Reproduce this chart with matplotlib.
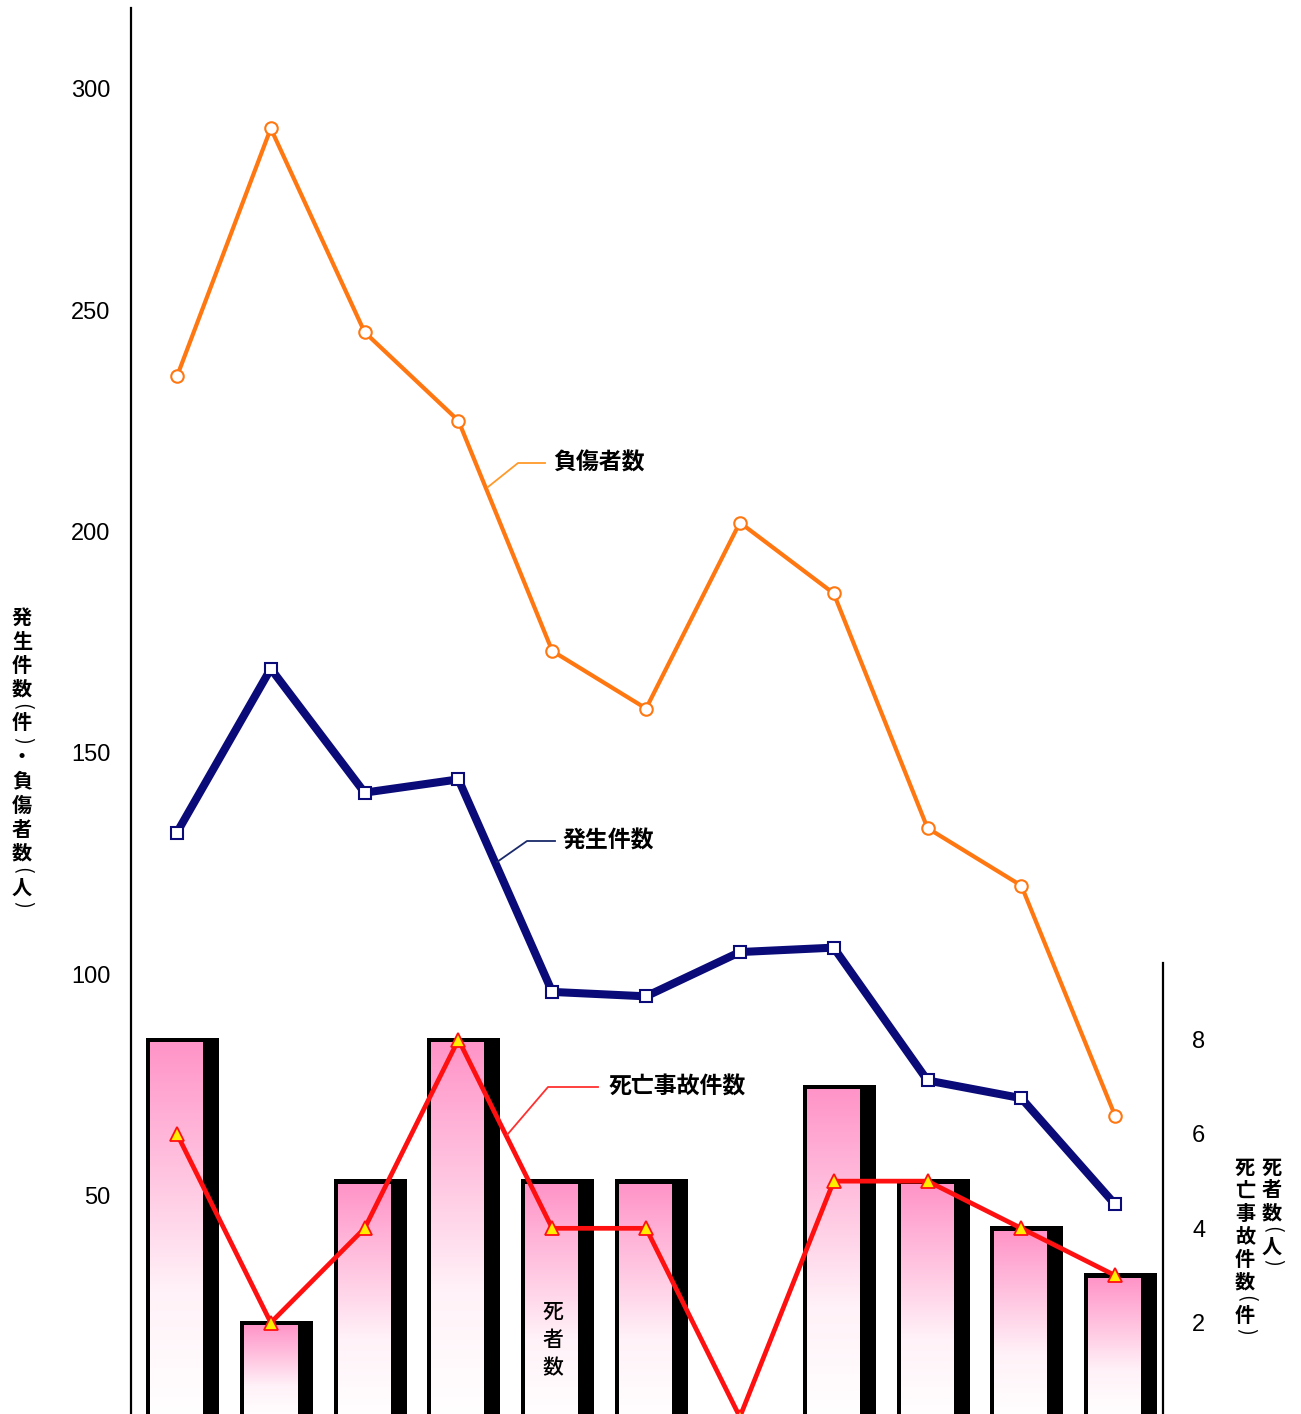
import matplotlib
matplotlib.use("Agg")
import matplotlib.pyplot as plt
import numpy as np
from matplotlib.colors import LinearSegmentedColormap
from matplotlib.lines import Line2D

# ---- data ----
years = list(range(11))
injured = [235, 291, 245, 225, 173, 160, 202, 186, 133, 120, 68]        # 負傷者数
accidents = [132, 169, 141, 144, 96, 95, 105, 106, 76, 72, 48]          # 発生件数
deaths = [8, 2, 5, 8, 5, 5, 0, 7, 5, 4, 3]                              # 死者数
fatal_accidents = [6, 2, 4, 8, 4, 4, 0, 5, 5, 4, 3]                     # 死亡事故件数
left_ticks = [50, 100, 150, 200, 250, 300]
right_ticks = [2, 4, 6, 8]

W, H = 1301, 1414
CJK = ["Noto Sans CJK JP", "DejaVu Sans"]
NUM = ["Liberation Sans", "DejaVu Sans"]

fig = plt.figure(figsize=(W / 100, H / 100), dpi=100)
ax_bottom_px, ax_top_px = 1417, 8
ax = fig.add_axes([131 / W, (H - ax_bottom_px) / H, 1032 / W, (ax_bottom_px - ax_top_px) / H])
ax.set_xlim(-0.49, 10.51)
ax.set_ylim(0, (ax_bottom_px - ax_top_px) / 4.428)
ax2 = ax.twinx()

for a in (ax, ax2):
    for s in ("top", "bottom"):
        a.spines[s].set_visible(False)
    a.set_facecolor("none")
ax.spines["right"].set_visible(False)
ax2.spines["left"].set_visible(False)
ax.spines["left"].set_linewidth(1.6)
ax2.spines["right"].set_linewidth(1.6)
ax2.spines["right"].set_bounds(0, 9.63)
ax.set_xticks([])
ax2.set_xticks([])

ax.set_yticks(left_ticks)
ax.set_yticklabels([str(t) for t in left_ticks], family=NUM, fontsize=17)
ax.tick_params(axis="y", length=0, pad=15)
ax2.set_yticks(right_ticks)
ax2.set_yticklabels([str(t) for t in right_ticks], family=NUM, fontsize=17)
ax2.tick_params(axis="y", length=0, pad=21)

# ---- bars with shadow and pink gradient ----
xu = 1032 / 11.0          # pixels per x unit
yu = 47.17                # pixels per right-axis unit
pink = LinearSegmentedColormap.from_list("pk", ["#ffffff", "#fff2f8", "#ffc2df", "#ff94c8"])
grad = np.linspace(0, 1, 256).reshape(-1, 1)
for x, v in zip(years, deaths):
    if v <= 0:
        continue
    ax2.bar(x + (-31 + 42) / 2 / xu, v + 2 / yu, width=73 / xu, bottom=0,
            color="black", zorder=1)
    x0, x1 = x - 27 / xu, x + 26 / xu
    ax2.imshow(grad, extent=[x0, x1, 0, v - 3 / yu], origin="lower", cmap=pink,
               aspect="auto", zorder=2, interpolation="bilinear")

ax2.set_xlim(-0.49, 10.51)
ax2.set_ylim(0, (ax_bottom_px - ax_top_px) / yu)

# ---- lines ----
ax.plot(years, injured, color="#ff7711", lw=3.0, marker="o", ms=9,
        mfc="white", mec="#ff7711", mew=1.5, zorder=5, clip_on=False)
ax.plot(years, accidents, color="#0a0a78", lw=5.8, marker="s", ms=9,
        mfc="white", mec="#0a0a78", mew=1.5, zorder=5, clip_on=False)
ax2.plot(years, fatal_accidents, color="#ff1010", lw=3.4, marker="^", ms=10,
         mfc="#ffee00", mec="#ff1010", mew=1.3, zorder=6, clip_on=False)


def fpx(x, y):
    return x / W, 1 - y / H


def leader(points, color):
    xs, ys = zip(*[fpx(px, py) for px, py in points])
    fig.add_artist(Line2D(xs, ys, color=color, lw=1.3, transform=fig.transFigure, zorder=7))


leader([(488, 487), (518, 463), (545, 463)], "#ff9a2a")
leader([(497, 862), (527, 841), (555, 841)], "#1a2a6a")
leader([(507, 1135), (548, 1087), (598, 1087)], "#ff3030")

fig.text(*fpx(553, 463), "負傷者数", family=CJK, fontsize=16.5, fontweight="bold",
         ha="left", va="center")
fig.text(*fpx(562, 841), "発生件数", family=CJK, fontsize=16.5, fontweight="bold",
         ha="left", va="center")
fig.text(*fpx(609, 1087), "死亡事故件数", family=CJK, fontsize=16.5, fontweight="bold",
         ha="left", va="center")


def vertical(text, x, y0, full, small, size, weight="bold"):
    """Stack characters top to bottom; brackets are turned to lie across the column."""
    y = y0
    prev = None
    for ch in text:
        is_br = ch in "()"
        h = small if is_br else full
        if prev is not None:
            y += (prev + h) / 2
        fig.text(*fpx(x, y), ch, family=CJK, fontsize=size,
                 fontweight="normal" if is_br else weight,
                 rotation=-90 if is_br else 0, rotation_mode="anchor",
                 ha="center", va="center")
        prev = h


vertical("発生件数(件)・負傷者数(人)", 22, 617, 24, 10, 14.5)
vertical("死者数(人)", 1272, 1167, 23, 10, 14.5)
vertical("死亡事故件数(件)", 1245, 1167, 23, 10, 14.5)
vertical("死者数", 553, 1312, 28, 10, 15, weight="medium")

fig.savefig("out.png", dpi=100)
